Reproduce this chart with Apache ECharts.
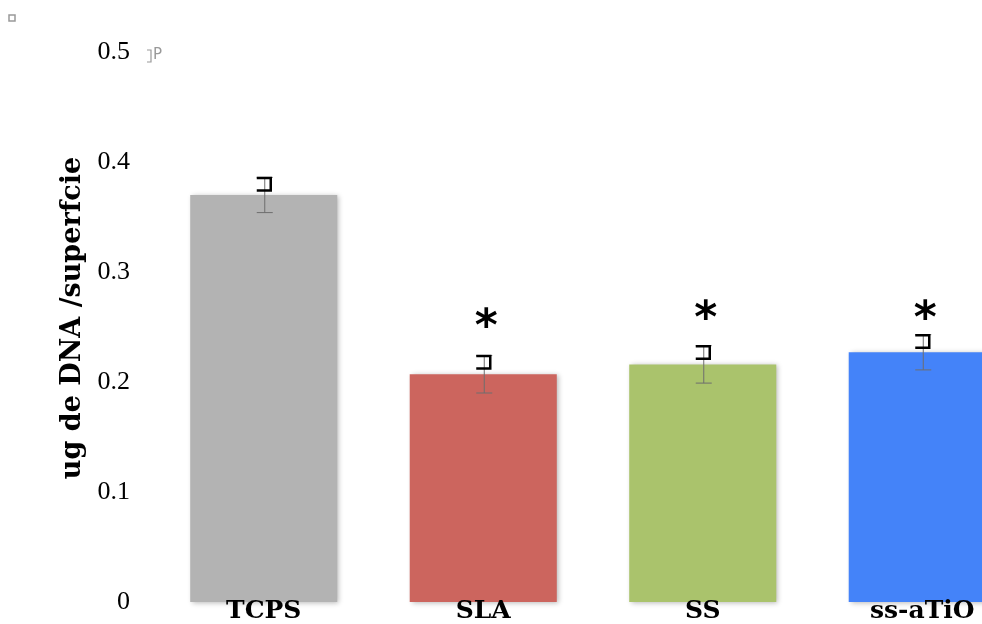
<!DOCTYPE html>
<html>
<head>
<meta charset="utf-8">
<script src="https://cdn.jsdelivr.net/npm/echarts@6/dist/echarts.min.js"></script>
<style>
  html, body { margin: 0; padding: 0; background: #fff; width: 982px; height: 624px; overflow: hidden; }
  #chart { width: 1040px; height: 624px; }
</style>
</head>
<body>
<div id="chart"></div>
<script>
// Groups and DNA amount per surface
const categories = ['TCPS', 'SLA', 'SS', 'ss-aTiO'];
const dnaMeans = [0.370, 0.207, 0.216, 0.227];
const dnaErrors = [0.016, 0.017, 0.017, 0.016];
const barColors = ['#b3b3b3', '#cc655e', '#aac36c', '#4483f9'];
// significance marks (value height of each asterisk; null = none)
const starHeights = [null, 0.256, 0.263, 0.263];
const yTicks = [0, 0.1, 0.2, 0.3, 0.4, 0.5];

const serif = '"Liberation Serif", "DejaVu Serif", serif';
const boldSerif = '"DejaVu Serif", "Liberation Serif", serif';

const chart = echarts.init(document.getElementById('chart'));

const errorData = categories.map((c, i) => [i, dnaMeans[i] - dnaErrors[i], dnaMeans[i] + dnaErrors[i]]);
const starData = [];
starHeights.forEach((h, i) => { if (h !== null) starData.push([i, h]); });

chart.setOption({
  animation: false,
  grid: { left: 154, top: 52, right: 8, bottom: 16, containLabel: false },
  xAxis: {
    type: 'category',
    data: categories,
    z: 10,
    axisLine: { show: false },
    axisTick: { show: false },
    axisLabel: {
      margin: -3,
      verticalAlign: 'top',
      fontFamily: boldSerif,
      fontWeight: 'bold',
      fontSize: 25,
      color: '#000'
    }
  },
  yAxis: {
    type: 'value',
    min: yTicks[0],
    max: yTicks[yTicks.length - 1],
    interval: 0.1,
    name: 'ug de DNA /superfcie',
    nameLocation: 'middle',
    nameGap: 62,
    nameRotate: 90,
    nameTextStyle: {
      fontFamily: boldSerif,
      fontWeight: 'bold',
      fontSize: 27,
      color: '#000',
      padding: [0, 0, 0, 18]
    },
    axisLine: { show: false },
    axisTick: { show: false },
    splitLine: { show: false },
    axisLabel: {
      margin: 24,
      fontFamily: serif,
      fontSize: 26,
      color: '#000',
      formatter: v => (v === 0 ? '0' : v.toFixed(1))
    }
  },
  series: [
    {
      type: 'bar',
      barCategoryGap: '33%',
      data: dnaMeans.map((v, i) => ({
        value: v,
        itemStyle: {
          color: barColors[i],
          shadowColor: 'rgba(0,0,0,0.28)',
          shadowBlur: 5,
          shadowOffsetX: 2,
          shadowOffsetY: 1
        }
      }))
    },
    {
      // error bars with the small bracket mark at their upper end
      type: 'custom',
      data: errorData,
      z: 5,
      renderItem: (params, api) => {
        const x = api.coord([api.value(0), 0])[0] + 1;
        const lo = api.coord([api.value(0), api.value(1)])[1];
        const hi = api.coord([api.value(0), api.value(2)])[1];
        const cap = 8;
        const line = { stroke: '#6e6e6e', lineWidth: 1 };
        return {
          type: 'group',
          children: [
            { type: 'line', shape: { x1: x, y1: lo, x2: x, y2: hi }, style: line },
            { type: 'line', shape: { x1: x - cap, y1: lo, x2: x + cap, y2: lo }, style: line },
            { type: 'line', shape: { x1: x - cap, y1: hi, x2: x + cap, y2: hi }, style: line },
            {
              type: 'polyline',
              shape: { points: [[x - 8, hi + 0.5], [x + 6, hi + 0.5], [x + 6, hi + 13], [x - 8, hi + 13]] },
              style: { stroke: '#000', lineWidth: 2.5, fill: null }
            }
          ]
        };
      }
    },
    {
      // significance asterisks
      type: 'custom',
      data: starData,
      z: 6,
      renderItem: (params, api) => {
        const p = api.coord([api.value(0), api.value(1)]);
        return {
          type: 'text',
          x: p[0] + 3,
          y: p[1] + 8,
          style: {
            text: '*',
            fontFamily: '"DejaVu Sans", sans-serif',
            fontWeight: 'bold',
            fontSize: 44,
            fill: '#000',
            align: 'center',
            verticalAlign: 'middle'
          }
        };
      }
    }
  ],
  graphic: [
    {
      type: 'rect',
      shape: { x: 9, y: 15, width: 6, height: 6 },
      style: { stroke: '#999', lineWidth: 1.5, fill: 'none' }
    },
    {
      type: 'polyline',
      shape: { points: [[147, 50], [151, 50], [151, 62], [147, 62]] },
      style: { stroke: '#999', lineWidth: 1.2, fill: null }
    },
    {
      type: 'text',
      x: 153,
      y: 48,
      style: { text: 'P', fontFamily: '"DejaVu Sans", sans-serif', fontSize: 15, fill: '#999' }
    }
  ]
});
</script>
</body>
</html>
